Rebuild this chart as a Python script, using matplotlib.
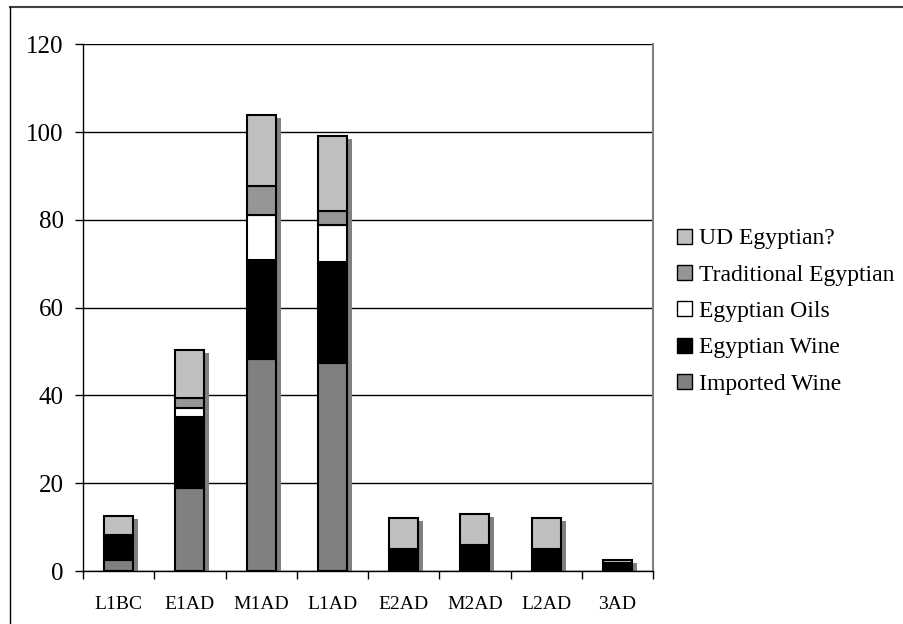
import matplotlib
matplotlib.use("Agg")
import matplotlib.pyplot as plt
import matplotlib.transforms as mtransforms
from matplotlib.patches import Patch
from matplotlib.lines import Line2D
import numpy as np

plt.rcParams['font.family'] = ['Liberation Serif', 'DejaVu Serif']

# Periods and amphora counts per class
periods = ["L1BC", "E1AD", "M1AD", "L1AD", "E2AD", "M2AD", "L2AD", "3AD"]
imported_wine = [2.6, 19.0, 48.3, 47.3, 0.0, 0.0, 0.0, 0.0]
egyptian_wine = [5.0, 16.1, 22.6, 23.2, 5.0, 6.0, 5.0, 1.8]
egyptian_oils = [0.3, 2.0, 10.2, 8.3, 0.0, 0.0, 0.0, 0.0]
traditional_egyptian = [0.3, 2.3, 6.7, 3.2, 0.0, 0.0, 0.0, 0.0]
ud_egyptian = [4.3, 11.0, 16.2, 17.0, 7.0, 7.0, 7.0, 0.8]

series = [
    ("Imported Wine", imported_wine, "#808080"),
    ("Egyptian Wine", egyptian_wine, "#000000"),
    ("Egyptian Oils", egyptian_oils, "#ffffff"),
    ("Traditional Egyptian", traditional_egyptian, "#969696"),
    ("UD Egyptian?", ud_egyptian, "#c0c0c0"),
]

fig = plt.figure(figsize=(9.04, 6.24), dpi=100)
ax = fig.add_axes([83 / 904, 1 - 571 / 624, 570 / 904, (571 - 44.3) / 624])

x = np.arange(len(periods))
width = 0.41

# drop shadow behind each stacked column
totals = np.sum([s[1] for s in series], axis=0)
shadow_tr = mtransforms.offset_copy(ax.transData, fig=fig, x=5, y=-3, units='dots')
ax.bar(x, totals, width=width, color="#808080", edgecolor="none",
       transform=shadow_tr, zorder=2)

bottom = np.zeros(len(periods))
for name, vals, col in series:
    ax.bar(x, vals, width=width, bottom=bottom, color=col, edgecolor="black",
           linewidth=1.5, zorder=3)
    bottom += np.array(vals)

ax.set_xlim(-0.5, len(periods) - 0.5)
ax.set_ylim(0, 120)
ax.set_yticks(np.arange(0, 121, 20))
ax.yaxis.grid(True, color="black", linewidth=1.0, zorder=0)
ax.set_axisbelow(True)

ax.set_xticks(x)
ax.set_xticklabels(periods, fontsize=14)
ax.set_xticks(np.arange(-0.5, len(periods) + 0.5, 1), minor=True)
ax.tick_params(axis='x', which='major', length=0, pad=18)
ax.tick_params(axis='x', which='minor', length=6, width=1, direction='out')
ax.tick_params(axis='y', labelsize=18, length=6, width=1, pad=8, direction='out')

ax.spines["top"].set_visible(False)
ax.spines["right"].set_color("#808080")
ax.spines["right"].set_linewidth(1.5)
ax.spines["left"].set_linewidth(1.0)
ax.spines["bottom"].set_linewidth(1.0)

handles = [Patch(facecolor=col, edgecolor="black", linewidth=1.0, label=name)
           for name, vals, col in series[::-1]]
fig.legend(handles=handles, loc="upper left",
           bbox_to_anchor=(668 / 904, 1 - 219 / 624),
           frameon=False, fontsize=17, handlelength=0.6, handleheight=0.6,
           handletextpad=0.3, labelspacing=0.65, borderaxespad=0)

# outer frame
fig.add_artist(Line2D([10 / 904, 1], [1 - 7 / 624, 1 - 7 / 624],
                      transform=fig.transFigure, color="#404040", linewidth=1.5))
fig.add_artist(Line2D([10 / 904, 10 / 904], [0, 1 - 7 / 624],
                      transform=fig.transFigure, color="black", linewidth=1.0))

fig.savefig("out.png", dpi=100)
